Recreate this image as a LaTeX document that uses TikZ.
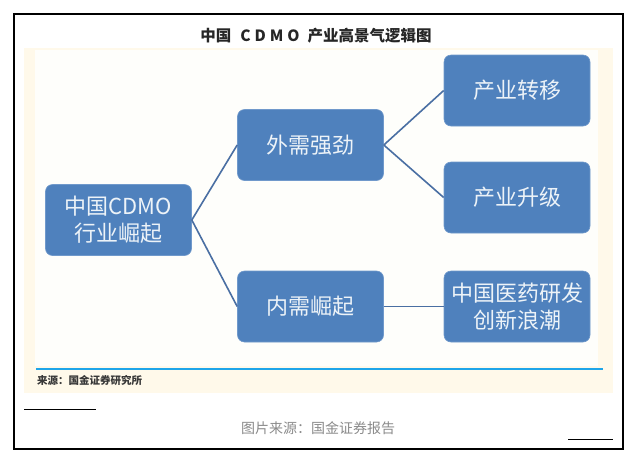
\documentclass[tikz,border=0pt]{standalone}
\usepackage{fontspec}
\setmainfont{Noto Sans CJK SC}
\usepackage{xcolor}
\usepackage{tikz}
\definecolor{boxblue}{HTML}{4F81BD}
\definecolor{boxedge}{HTML}{7099CB}
\definecolor{linkblue}{HTML}{4A6FA3}
\definecolor{srcblue}{HTML}{1EA5E9}
\definecolor{paper}{HTML}{FFF9EA}
\definecolor{panel}{HTML}{FEFEFB}
\definecolor{notegray}{HTML}{8A8A8A}
\tikzset{
  block/.style={rectangle,rounded corners=7pt,fill=boxblue,draw=boxedge,line width=0.6pt,
    minimum width=146pt,minimum height=71pt,inner sep=0pt,align=center,
    text=white!90!boxblue,font=\fontsize{22}{27}\selectfont},
  link/.style={draw=linkblue,line width=1.6pt},
  rulebar/.style={draw=black,line width=1pt}
}

\begin{document}
\begin{tikzpicture}[x=1pt,y=-1pt]
  \useasboundingbox (0,0) rectangle (632,456);
  \draw[line width=1.4pt] (14,14) rectangle (623,449);
  \fill[paper] (24,48) rectangle (613,393);
  \fill[panel] (35,50) rectangle (598,366);
  \node[font=\bfseries\fontsize{15.5}{17}\selectfont,text=black!85] (title) at (316,36)
    {中国\hspace{9pt}{\addfontfeatures{LetterSpace=25}CDMO}\hspace{8pt}产业高景气逻辑图};
  \node[block] (cdmo) at (118.5,220) {中国CDMO\\行业崛起};
  \node[block] (waixu) at (310.5,145) {外需强劲};
  \node[block] (neixu) at (310.5,306.5) {内需崛起};
  \node[block] (zhuanyi) at (517,90.5) {产业转移};
  \node[block] (shengji) at (517,197.5) {产业升级};
  \node[block] (chuangxin) at (517,306.5) {中国医药研发\\创新浪潮};
  \foreach \t in {waixu,neixu} \draw[link] (cdmo.east)--(\t.west);
  \foreach \t in {zhuanyi,shengji} \draw[link] (waixu.east)--(\t.west);
  \draw[link] (neixu.east)--(chuangxin.west);
  \coordinate (s0) at (36,369);
  \coordinate (s1) at (603,369);
  \draw[srcblue,line width=2pt] (s0)--(s1);
  \node[anchor=west,font=\bfseries\fontsize{10.5}{12}\selectfont,text=black!78,inner sep=0pt]
    (source) at (37,380) {来源：国金证券研究所};
  \draw[rulebar] (24,409)--(96,409);
  \node[font=\fontsize{14}{16}\selectfont,text=notegray] (caption) at (318,428)
    {图片来源：国金证券报告};
  \draw[rulebar] (568,439)--(613,439);
\end{tikzpicture}
\end{document}
